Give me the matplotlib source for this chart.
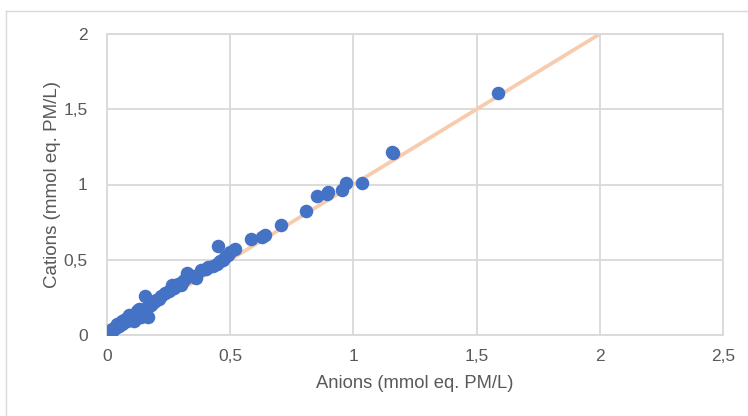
import matplotlib.pyplot as plt
from matplotlib.lines import Line2D

# data
anions = [0.00, 0.005, 0.01, 0.015, 0.02, 0.025, 0.03, 0.04, 0.045, 0.05,
          0.06, 0.065, 0.07, 0.08, 0.085, 0.09, 0.10, 0.10, 0.11, 0.11,
          0.12, 0.12, 0.13, 0.14, 0.14, 0.15, 0.155, 0.165, 0.16, 0.17,
          0.18, 0.19, 0.20, 0.21, 0.22, 0.235, 0.25, 0.265, 0.27, 0.29,
          0.30, 0.31, 0.32, 0.325, 0.35, 0.36, 0.38, 0.40, 0.41, 0.43,
          0.445, 0.45, 0.46, 0.47, 0.48, 0.49, 0.50, 0.52, 0.583, 0.630,
          0.641, 0.705, 0.808, 0.851, 0.892, 0.896, 0.954, 0.970, 1.034,
          1.155, 1.160, 1.587,
          0.04, 0.06, 0.08, 0.09, 0.12, 0.13, 0.15, 0.02, 0.035, 0.07]
cations = [0.00, 0.01, 0.02, 0.015, 0.03, 0.03, 0.04, 0.05, 0.06, 0.06,
           0.07, 0.08, 0.09, 0.09, 0.10, 0.11, 0.12, 0.10, 0.13, 0.09,
           0.14, 0.11, 0.15, 0.16, 0.12, 0.17, 0.26, 0.12, 0.14, 0.19,
           0.20, 0.22, 0.23, 0.24, 0.26, 0.28, 0.29, 0.33, 0.31, 0.34,
           0.33, 0.36, 0.38, 0.41, 0.39, 0.38, 0.43, 0.44, 0.45, 0.46,
           0.47, 0.59, 0.49, 0.50, 0.52, 0.53, 0.55, 0.57, 0.640, 0.653,
           0.664, 0.729, 0.824, 0.926, 0.935, 0.952, 0.963, 1.008, 1.012,
           1.214, 1.210, 1.608,
           0.07, 0.09, 0.11, 0.13, 0.16, 0.17, 0.14, 0.04, 0.06, 0.10]

ref_line = [0, 2]
xticks = [0, 0.5, 1, 1.5, 2, 2.5]
xtick_labels = ['0', '0,5', '1', '1,5', '2', '2,5']
yticks = [0, 0.5, 1, 1.5, 2]
ytick_labels = ['0', '0,5', '1', '1,5', '2']

plt.rcParams['font.family'] = ['Liberation Sans', 'DejaVu Sans']

fig = plt.figure(figsize=(7.48, 4.16), dpi=100)
ax = fig.add_axes([107/748, 1 - 335/416, (723-107)/748, (335-34)/416])

grid_col = '#D9D9D9'
ax.plot(ref_line, ref_line, color='#F8CBAD', linewidth=2.7, zorder=2, solid_capstyle='butt')
ax.scatter(anions, cations, s=95, color='#4472C4', zorder=3, linewidths=0)

ax.set_xlim(0, 2.5)
ax.set_ylim(0, 2)
ax.set_xticks(xticks)
ax.set_xticklabels(xtick_labels)
ax.set_yticks(yticks)
ax.set_yticklabels(ytick_labels)
ax.grid(True, color=grid_col, linewidth=1.3, zorder=0)
ax.set_axisbelow(True)
for s in ax.spines.values():
    s.set_color(grid_col)
    s.set_linewidth(1.3)
ax.tick_params(length=0, labelsize=12.5, colors='#595959', pad=10)
ax.tick_params(axis='y', pad=14)

ax.set_xlabel('Anions (mmol eq. PM/L)', fontsize=13.2, color='#595959', labelpad=8)
ax.set_ylabel('Cations (mmol eq. PM/L)', fontsize=13.5, color='#595959', labelpad=2)

# outer chart frame
fig.add_artist(Line2D([6/748, 1], [1 - 11/416, 1 - 11/416], color=grid_col, linewidth=1))
fig.add_artist(Line2D([6/748, 6/748], [0, 1 - 11/416], color=grid_col, linewidth=1))

plt.savefig('out.png', dpi=100)
